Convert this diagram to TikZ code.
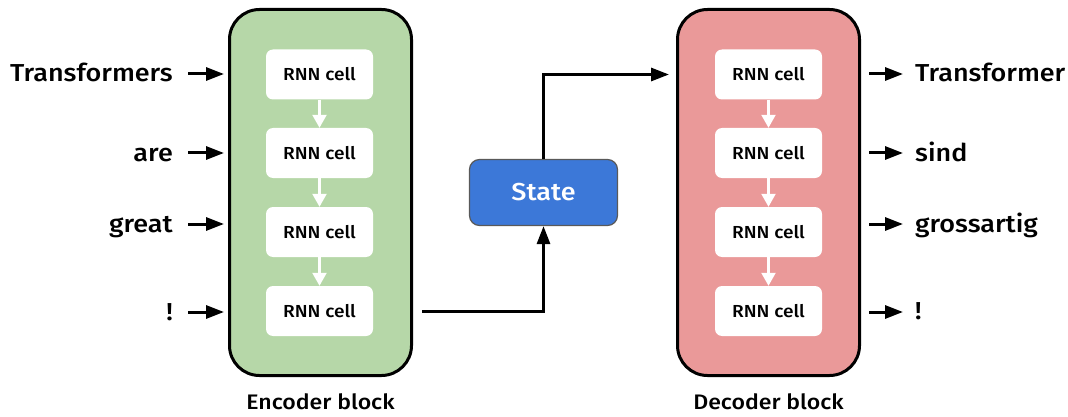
\documentclass[tikz,border=0pt]{standalone}
\usepackage{fontspec}
\setmainfont{Fira Sans}
\newfontfamily\medium{Fira Sans Medium}[FakeStretch=1.1]
\usetikzlibrary{arrows.meta,calc}
\definecolor{encfill}{HTML}{B6D7A8}
\definecolor{decfill}{HTML}{EA9999}
\definecolor{statefill}{HTML}{3C78D8}
\definecolor{stateline}{HTML}{595959}

\begin{document}
\begin{tikzpicture}[x=1pt,y=-1pt,
  block/.style={draw=black, line width=3pt, rounded corners=30pt,
    minimum width=182pt, minimum height=366pt, inner sep=0pt},
  cell/.style={fill=white, rounded corners=7pt, minimum width=107pt,
    minimum height=50pt, inner sep=0pt, font=\medium\fontsize{17.4}{17.4}\selectfont},
  word/.style={inner sep=0pt, font=\medium\fontsize{24.5}{24.5}\selectfont},
  caption/.style={inner sep=0pt, font=\medium\fontsize{21}{21}\selectfont},
  conn/.style={line width=3pt, -{Triangle[length=18pt,width=13pt]}},
  link/.style={draw=white, line width=2.2pt, -{Triangle[length=13pt,width=14pt]}},
]
\useasboundingbox (0,0) rectangle (1068,417);

% encoder and decoder blocks
\node[block, fill=encfill] (enc) at (320.5,192.5) {};
\node[block, fill=decfill] (dec) at (768.5,192.5) {};

% recurrent cells
\foreach \i/\y in {1/74.5, 2/153, 3/232, 4/311} {
  \node[cell] (ec\i) at (319.5,\y) {RNN cell};
  \node[cell] (dc\i) at (768.5,\y) {RNN cell};
}
\foreach \i/\j in {1/2, 2/3, 3/4} {
  \draw[link] (ec\i.south) -- (ec\j.north);
  \draw[link] (dc\i.south) -- (dc\j.north);
}

% hidden state
\node[draw=stateline, line width=1.2pt, fill=statefill, rounded corners=10pt,
  minimum width=148pt, minimum height=66pt, inner sep=0pt, text=white,
  font=\medium\fontsize{24.5}{24.5}\selectfont] (state) at (543.5,192.5) {State};

% input words
\node[word, anchor=base east] (in1) at (173,82) {Transformers};
\node[word, anchor=base east] (in2) at (173,161.5) {are};
\node[word, anchor=base east] (in3) at (173,232) {great};
\node[word, anchor=base east] (in4) at (173,320) {!};

% output words
\node[word, anchor=base west] (out1) at (915,82) {Transformer};
\node[word, anchor=base west] (out2) at (915,161.5) {sind};
\node[word, anchor=base west] (out3) at (915,232) {grossartig};
\node[word, anchor=base west] (out4) at (915,319) {!};

% arrow heights
\coordinate (r1) at (0,74);
\coordinate (r2) at (0,153);
\coordinate (r3) at (0,224);
\coordinate (r4) at (0,312);

\foreach \i in {1,2,3,4} {
  \draw[conn, shorten <=15pt, shorten >=4pt] (in\i.east |- r\i) -- (enc.west |- r\i);
  \draw[conn, shorten <=8pt, shorten >=12pt] (dec.east |- r\i) -- (out\i.west |- r\i);
}

% state passing
\draw[conn] ($(enc.east |- ec4)+(9,0)$) -| (state.south);
\draw[conn] (state.north) |- ($(dec.west |- dc1)+(-7,0)$);

% captions
\node[caption, anchor=base] (encl) at (320.5,409) {Encoder block};
\node[caption, anchor=base] (decl) at (768.5,409) {Decoder block};
\end{tikzpicture}
\end{document}
